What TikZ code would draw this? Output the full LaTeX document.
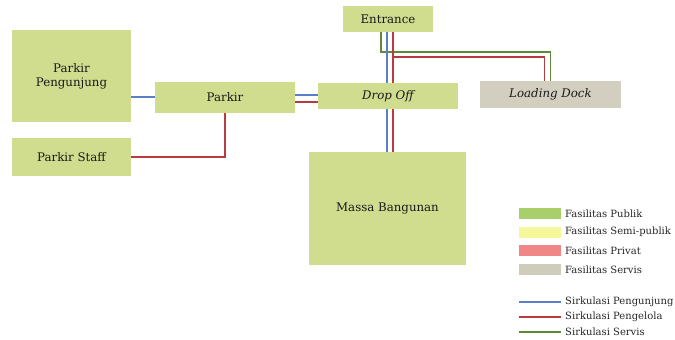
\documentclass[tikz,border=0pt]{standalone}
\usepackage{fontspec}
\setmainfont{DejaVu Serif}
\definecolor{publik}{HTML}{D0DC8E}
\definecolor{servis}{HTML}{D3CFC0}
\definecolor{lgpublik}{HTML}{A8CF6A}
\definecolor{lgsemi}{HTML}{F6F69A}
\definecolor{lgprivat}{HTML}{F08686}
\definecolor{lgservis}{HTML}{D0CCBC}
\definecolor{cpeng}{HTML}{5B80CB}
\definecolor{cpenge}{HTML}{B93A3F}
\definecolor{cserv}{HTML}{5E8A3B}
\tikzset{
  zone/.style={fill=publik, inner sep=0pt, align=center, text=black!90, font=\fontsize{11.8}{14}\selectfont},
  jalur/.style={line width=1.7pt},
  swatch/.style={fill=#1, minimum width=42pt, minimum height=11pt, inner sep=0pt},
  lgtext/.style={anchor=west, inner sep=0pt, text=black!85, font=\fontsize{10}{12}\selectfont},
}
\begin{document}
\begin{tikzpicture}[x=1pt,y=-1pt]
\useasboundingbox (0,0) rectangle (675,340);
% zona
\node[zone, minimum width=119pt, minimum height=92pt] (pp) at (71.5,76) {Parkir\\Pengunjung};
\node[zone, minimum width=140pt, minimum height=31pt] (parkir) at (225,97) {Parkir};
\node[zone, minimum width=119pt, minimum height=38pt] (staff) at (71.5,157) {Parkir Staff};
\node[zone, minimum width=140pt, minimum height=26pt] (drop) at (388,96) {\itshape Drop Off};
\node[zone, minimum width=90pt, minimum height=26pt] (entr) at (388,19) {Entrance};
\node[zone, fill=servis, minimum width=141pt, minimum height=27pt] (dock) at (550.5,94.5) {\itshape Loading Dock};
\node[zone, minimum width=157pt, minimum height=113pt] (massa) at (387.5,208.5) {Massa Bangunan};
% titik belok
\coordinate (gbend) at (381,52);
\coordinate (rbend) at (393,57);
\coordinate (bx) at (387,57);
% sirkulasi servis
\draw[jalur, cserv] (entr.south -| gbend) -- (gbend) -| (dock.north);
% sirkulasi pengunjung
\draw[jalur, cpeng] (pp.east |- parkir.west) -- (parkir.west);
\draw[jalur, cpeng] ([yshift=2pt]parkir.east) -- ([yshift=2pt]parkir.east -| drop.west);
\draw[jalur, cpeng] (entr.south -| bx) -- (drop.north -| bx);
\draw[jalur, cpeng] (drop.south -| bx) -- (massa.north -| bx);
% sirkulasi pengelola
\draw[jalur, cpenge] (staff.east) -| (parkir.south);
\draw[jalur, cpenge] ([yshift=-5pt]parkir.east) -- ([yshift=-5pt]parkir.east -| drop.west);
\draw[jalur, cpenge] (entr.south -| rbend) -- (drop.north -| rbend);
\draw[jalur, cpenge] (rbend) -| ([xshift=-6pt]dock.north);
\draw[jalur, cpenge] (drop.south -| rbend) -- (massa.north -| rbend);
% legenda
\foreach \c/\t [count=\i] in {lgpublik/Fasilitas Publik, lgsemi/Fasilitas Semi-publik, lgprivat/Fasilitas Privat, lgservis/Fasilitas Servis}{
  \node[swatch=\c] (sw\i) at (540,195+18.6*\i) {};
  \node[lgtext] (lt\i) at (565,195+18.6*\i) {\t};
}
\foreach \c/\t [count=\i] in {cpeng/Sirkulasi Pengunjung, cpenge/Sirkulasi Pengelola, cserv/Sirkulasi Servis}{
  \coordinate (la\i) at (519,287+15*\i);
  \node[lgtext] (ll\i) at (565,287+15*\i) {\t};
  \draw[jalur, \c] (la\i) -- ([xshift=-4pt]ll\i.west);
}
\end{tikzpicture}
\end{document}
